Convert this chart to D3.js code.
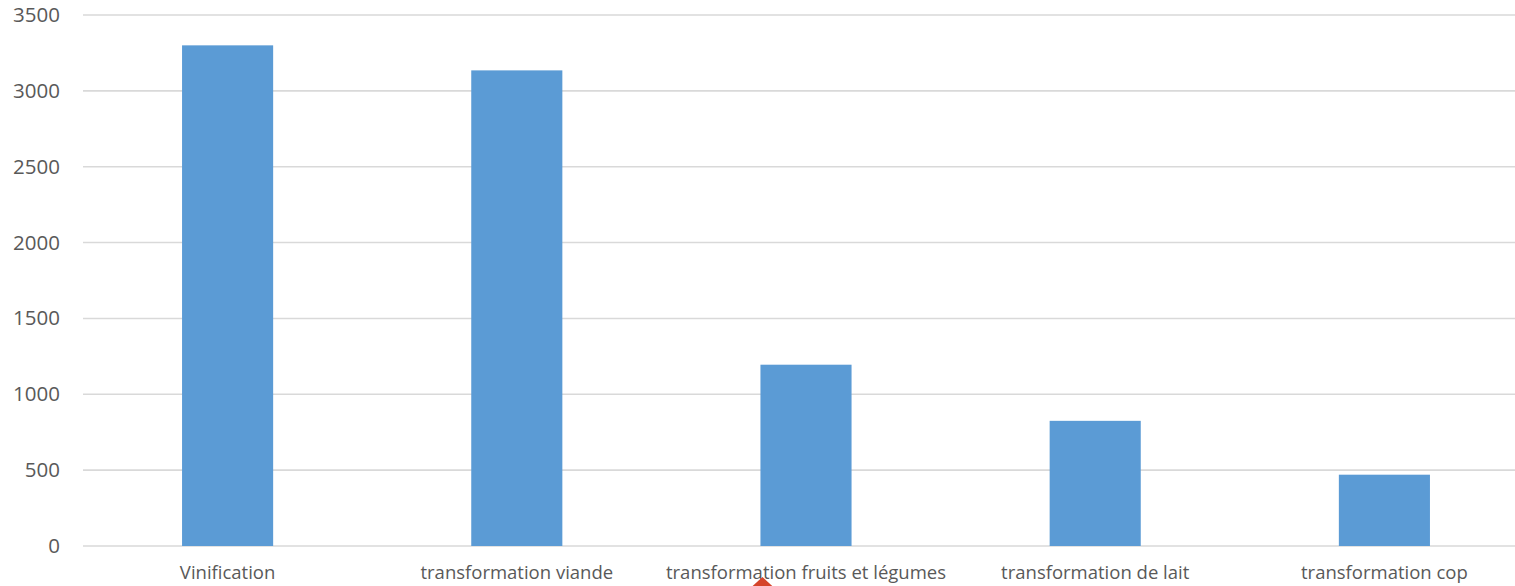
<!DOCTYPE html>
<html>
<head>
<meta charset="utf-8">
<script src="https://cdn.jsdelivr.net/npm/d3@7"></script>
<style>
  html, body { margin: 0; padding: 0; background: #fff; overflow: hidden; }
  text { font-family: "Open Sans", sans-serif; fill: #595959; }
</style>
</head>
<body>
<svg id="chart" width="1515" height="586"></svg>
<script>
var categories = ['Vinification', 'transformation viande', 'transformation fruits et légumes', 'transformation de lait', 'transformation cop'];
var values = [3300, 3135, 1195, 825, 470];
var yTicks = [0, 500, 1000, 1500, 2000, 2500, 3000, 3500];

var padLeft = 83, padTop = 15, padBottom = 546;
// plot runs past the right edge of the picture
var padRight = 1529;

var svg = d3.select('#chart');

var x = d3.scaleBand()
    .domain(categories)
    .range([padLeft, padRight])
    .paddingInner(0.685)
    .paddingOuter(0.3425);

var y = d3.scaleLinear()
    .domain([0, 3500])
    .range([padBottom, padTop]);

// gridlines
svg.append('g')
    .selectAll('line')
    .data(yTicks)
    .enter()
    .append('line')
    .attr('x1', padLeft)
    .attr('x2', padRight)
    .attr('y1', d => y(d))
    .attr('y2', d => y(d))
    .attr('stroke', '#d9d9d9')
    .attr('stroke-width', 1.6);

// y labels
let yAxis = d3.axisLeft(y).tickValues(yTicks).tickFormat(d3.format('d')).tickSize(0).tickPadding(0);
let yG = svg.append('g')
    .attr('transform', `translate(${padLeft - 23} 0)`)
    .call(yAxis);
yG.select('.domain').remove();
yG.selectAll('text')
    .attr('font-size', 20.5)
    .attr('font-family', '"Open Sans", sans-serif')
    .attr('fill', '#595959');

// bars
svg.append('g')
    .selectAll('rect')
    .data(values)
    .enter()
    .append('rect')
    .attr('x', (d, i) => x(categories[i]))
    .attr('width', x.bandwidth())
    .attr('y', d => y(d))
    .attr('height', d => y(0) - y(d))
    .attr('fill', '#5b9bd5');

// x labels
let xAxis = d3.axisBottom(x).tickSize(0).tickPadding(0);
let xG = svg.append('g')
    .attr('transform', `translate(0 ${padBottom + 20})`)
    .call(xAxis);
xG.select('.domain').remove();
xG.selectAll('text')
    .attr('font-size', 18.5)
    .attr('font-family', '"Open Sans", sans-serif')
    .attr('fill', '#595959');

// small red marker under the third label
var mx = x(categories[2]) + 2;
svg.append('path')
    .attr('d', `M${mx} 577 L${mx + 12} 588 L${mx - 12} 588 Z`)
    .attr('fill', '#d5442a');
</script>
</body>
</html>
